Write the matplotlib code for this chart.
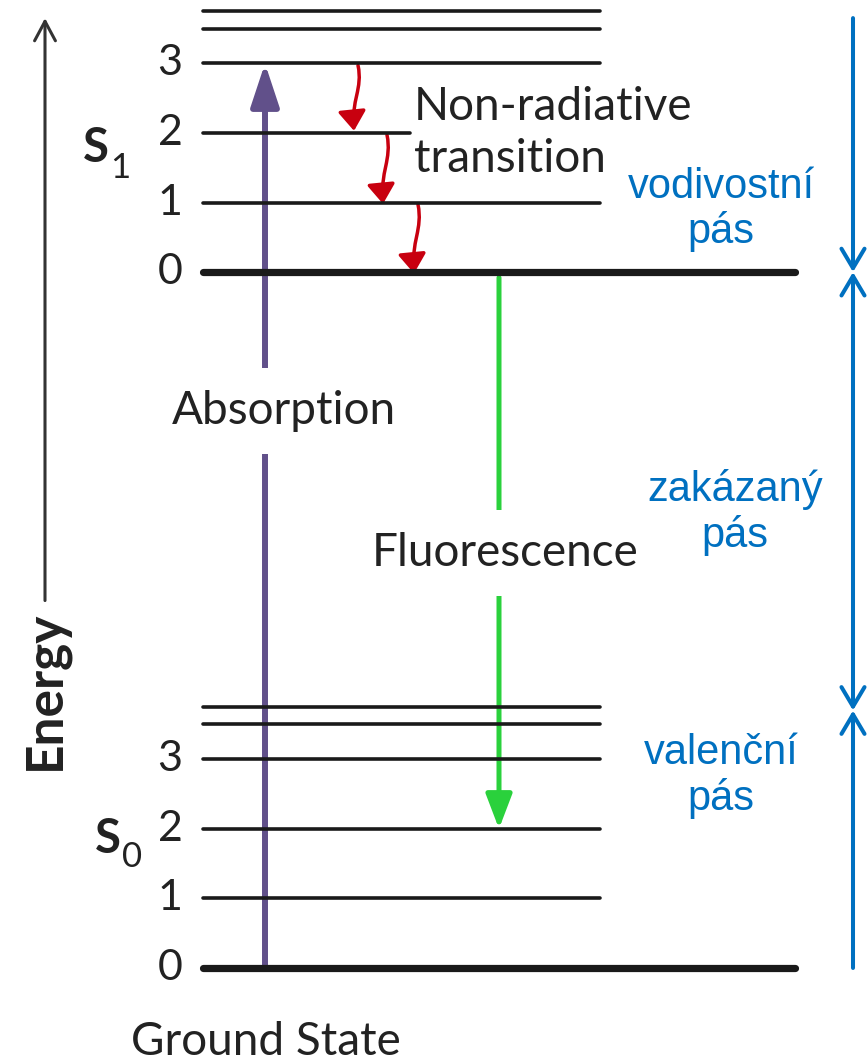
import matplotlib
matplotlib.use("Agg")
import matplotlib.pyplot as plt
from matplotlib.patches import FancyArrowPatch
from matplotlib.path import Path

# vibrational levels (energy in units of one S0 vibrational spacing)
s0_levels = [0, 1, 2, 3, 3.5, 3.75]
s1_levels = [10, 11, 12, 13, 13.5, 13.75]
level_labels = ["0", "1", "2", "3"]

absorption = (0, 13)
fluorescence = (9.92, 2)
nonradiative = [(12.97, 12.03), (11.97, 10.98), (10.97, 9.98)]

# band boundaries on the right-hand scale
band_top = 13.65
conduction_bottom = 10
valence_top = 3.7
band_bottom = 0

band_names = ["vodivostní\npás", "zakázaný\npás", "valenční\npás"]
band_label_y = [10.9, 6.55, 2.76]

BLACK = "#1a1a1a"
TEXT = "#222222"
PURPLE = "#61508a"
GREEN = "#2ad13c"
RED = "#c8000f"
BLUE = "#0070c0"

fig = plt.figure(figsize=(8.67, 10.64), dpi=100)
ax = fig.add_axes([0, 0, 1, 1])
ax.set_xlim(0, 867)
ax.set_ylim(-1.38, 13.91)
ax.axis("off")

font = "Lato"

# energy levels
for levels in (s0_levels, s1_levels):
    for i, e in enumerate(levels):
        x_end = 600
        lw = 2.6
        if i == 0:
            x_end, lw = 795, 5.2
        if levels is s1_levels and i == 2:
            x_end = 410
        ax.plot([203, x_end], [e, e], color=BLACK, lw=lw, solid_capstyle="round")
    for lab, e in zip(level_labels, levels[:4]):
        ax.text(170, e, lab, ha="center", va="center", fontsize=31,
                family=font, color=TEXT)

# S1 / S0 labels
ax.text(96, 11.78, "S", ha="center", va="center", fontsize=34,
        family=font, weight="bold", color=TEXT)
ax.text(120, 11.5, "1", ha="center", va="center", fontsize=25,
        family=font, color=TEXT)
ax.text(108, 1.86, "S", ha="center", va="center", fontsize=34,
        family=font, weight="bold", color=TEXT)
ax.text(132, 1.6, "0", ha="center", va="center", fontsize=25,
        family=font, color=TEXT)

# absorption arrow
ax.add_patch(FancyArrowPatch((265, absorption[0]), (265, absorption[1]),
                             arrowstyle="-|>,head_length=26,head_width=8.6",
                             mutation_scale=1, shrinkA=0, shrinkB=0,
                             color=PURPLE, lw=4.3))
ax.text(284, 8.0, "Absorption", ha="center", va="center", fontsize=33,
        family=font, color=TEXT,
        bbox=dict(facecolor="white", edgecolor="none", pad=16))

# fluorescence arrow
ax.add_patch(FancyArrowPatch((499, fluorescence[0]), (499, fluorescence[1]),
                             arrowstyle="-|>,head_length=21,head_width=8",
                             mutation_scale=1, shrinkA=0, shrinkB=0,
                             color=GREEN, lw=3.6))
ax.text(505, 5.96, "Fluorescence", ha="center", va="center", fontsize=33,
        family=font, color=TEXT,
        bbox=dict(facecolor="white", edgecolor="none", pad=16))

# non-radiative wavy arrows
for (e0, e1), x0 in zip(nonradiative, [358, 387, 418]):
    x1 = x0 - 4
    d = e1 - e0
    verts = [(x0, e0), (x0 + 5, e0 + 0.35 * d), (x1 - 3, e0 + 0.55 * d), (x1, e1)]
    path = Path(verts, [Path.MOVETO, Path.CURVE4, Path.CURVE4, Path.CURVE4])
    ax.add_patch(FancyArrowPatch(path=path,
                                 arrowstyle="-|>,head_length=12,head_width=8.5",
                                 mutation_scale=1, shrinkA=0, shrinkB=0,
                                 color=RED, lw=2.5))
ax.text(414, 12.0, "Non-radiative\ntransition", ha="left", va="center",
        fontsize=33, family=font, color=TEXT, linespacing=1.3)

# energy axis
ax.add_patch(FancyArrowPatch((45, 5.28), (45, band_top),
                             arrowstyle="->,head_length=14,head_width=7.5",
                             mutation_scale=1, shrinkA=0, shrinkB=0,
                             color="#333333", lw=2.2))
ax.text(45, 3.99, "Energy", ha="center", va="center", rotation=90,
        fontsize=37, family=font, weight="bold", color=TEXT)
ax.text(266, -1.06, "Ground State", ha="center", va="center", fontsize=33,
        family=font, color=TEXT)

# band scale on the right
blue_style = "->,head_length=14,head_width=8.3"
ax.add_patch(FancyArrowPatch((853, band_top), (853, conduction_bottom),
                             arrowstyle=blue_style, mutation_scale=1,
                             shrinkA=0, shrinkB=0, color=BLUE, lw=2.9,
                             capstyle="round", joinstyle="round"))
ax.add_patch(FancyArrowPatch((853, valence_top), (853, conduction_bottom),
                             arrowstyle="<" + blue_style, mutation_scale=1,
                             shrinkA=0, shrinkB=0, color=BLUE, lw=2.9,
                             capstyle="round", joinstyle="round"))
ax.add_patch(FancyArrowPatch((853, band_bottom), (853, valence_top),
                             arrowstyle=blue_style, mutation_scale=1,
                             shrinkA=0, shrinkB=0, color=BLUE, lw=2.9,
                             capstyle="round", joinstyle="round"))
for name, y, xc in zip(band_names, band_label_y, [721, 735, 721]):
    ax.text(xc, y, name, ha="center", va="center", fontsize=30,
            family="Liberation Sans", color=BLUE, linespacing=1.15)

fig.savefig("out.png", dpi=100)
plt.close(fig)
